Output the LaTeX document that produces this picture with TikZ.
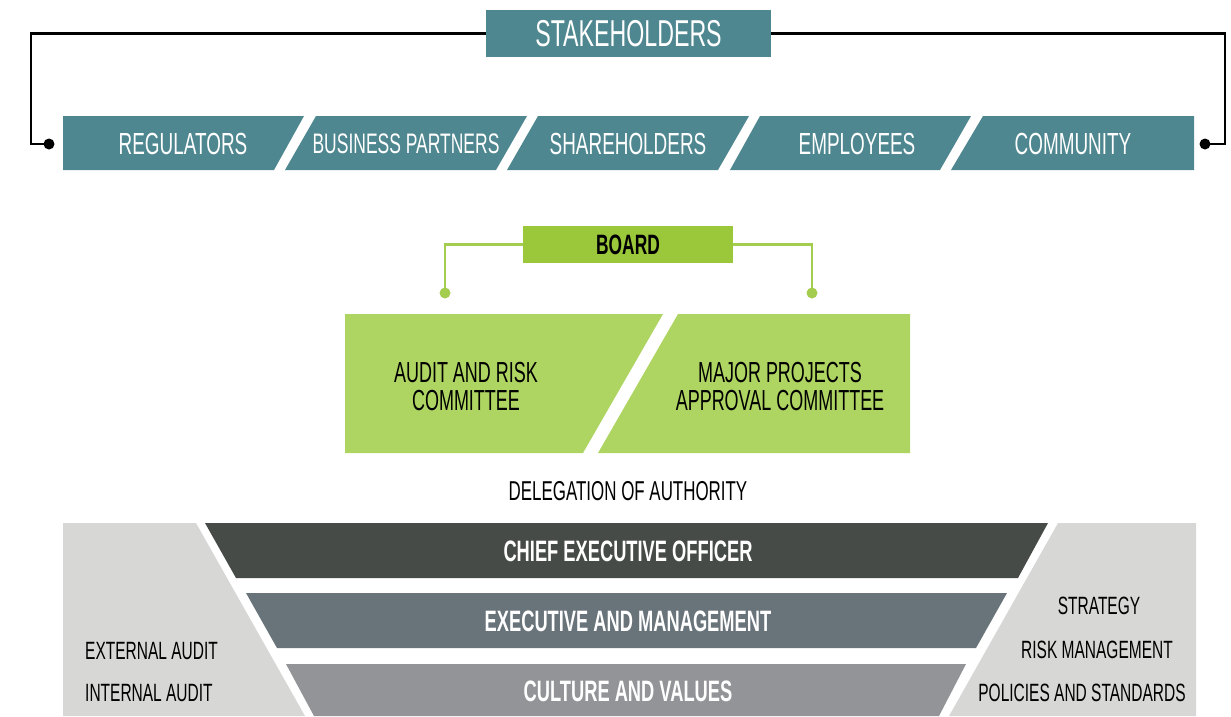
\documentclass[tikz,border=0pt]{standalone}
\usepackage{fontspec}
\setmainfont{Liberation Sans}[FakeStretch=0.62]
\usepackage{tikz}
\usetikzlibrary{positioning, calc}
\definecolor{staketeal}{RGB}{79,135,144}
\definecolor{boardgreen}{RGB}{155,199,59}
\definecolor{commgreen}{RGB}{174,213,98}
\definecolor{linegreen}{RGB}{164,204,79}
\definecolor{ceogray}{RGB}{70,75,71}
\definecolor{execgray}{RGB}{104,115,122}
\definecolor{culturegray}{RGB}{147,148,152}
\definecolor{panelgray}{RGB}{215,215,214}
\tikzset{stakebox/.style = {fill=staketeal, text=white, inner sep=0pt, font=\fontsize{37.4}{40}\selectfont},
         stakelabel/.style = {text=white, inner sep=0pt, font=\fontsize{30.5}{32}\selectfont},
         boardbox/.style = {fill=boardgreen, inner sep=0pt, font=\bfseries\fontsize{28}{30}\selectfont},
         commlabel/.style = {align=center, inner sep=0pt, font=\fontsize{29}{28}\selectfont},
         bandlabel/.style = {text=white, inner sep=0pt, font=\bfseries\fontsize{29.5}{31}\selectfont},
         sidelabel/.style = {inner sep=0pt, font=\fontsize{25}{27}\selectfont},
         blackline/.style = {draw=black, line width=2.5pt},
         greenline/.style = {draw=linegreen, line width=2.5pt}}

\begin{document}
\begin{tikzpicture}[x=1pt, y=-1pt]
        \useasboundingbox (0,0) rectangle (1231,716);

        % stakeholders
        \node [stakebox, minimum width=285pt, minimum height=47pt] (stake) at (628.5, 33.5) {STAKEHOLDERS};

        \fill [staketeal] (63,116) -- (304,116) -- (274,170) -- (63,170) -- cycle;
        \fill [staketeal] (316,116) -- (527,116) -- (496,170) -- (285,170) -- cycle;
        \fill [staketeal] (538,116) -- (749,116) -- (718,170) -- (507,170) -- cycle;
        \fill [staketeal] (760,116) -- (971,116) -- (940,170) -- (730,170) -- cycle;
        \fill [staketeal] (983,116) -- (1194,116) -- (1194,170) -- (951,170) -- cycle;

        \node [stakelabel] (reg) at (183, 144) {REGULATORS};
        \node [stakelabel, font=\fontsize{28.2}{30}\selectfont] (bus) at (406, 144) {BUSINESS PARTNERS};
        \node [stakelabel] (sha) at (628, 144) {SHAREHOLDERS};
        \node [stakelabel] (emp) at (857, 144) {EMPLOYEES};
        \node [stakelabel] (com) at (1073, 144) {COMMUNITY};

        \coordinate (lbend) at (31, 144);
        \coordinate (ldot)  at (49, 144);
        \coordinate (rbend) at (1225, 144);
        \coordinate (rdot)  at (1205, 144);
        \draw [blackline] (stake.west) -| (lbend) -- (ldot);
        \draw [blackline] (stake.east) -| (rbend) -- (rdot);
        \fill (ldot) circle (5.5pt);
        \fill (rdot) circle (5.5pt);

        % board and committees
        \node [boardbox, minimum width=210pt, minimum height=37pt] (board) at (628, 244.5) {BOARD};

        \fill [commgreen] (345,314) -- (663,314) -- (583,453) -- (345,453) -- cycle;
        \fill [commgreen] (678,314) -- (910,314) -- (910,453) -- (598,453) -- cycle;
        \node [commlabel] (audit) at (466, 387) {AUDIT AND RISK\\COMMITTEE};
        \node [commlabel] (major) at (780, 387) {MAJOR PROJECTS\\APPROVAL COMMITTEE};

        \coordinate (adot) at (445, 293);
        \coordinate (mdot) at (812, 293);
        \draw [greenline] (board.west) -| (adot);
        \draw [greenline] (board.east) -| (mdot);
        \fill [linegreen] (adot) circle (5.5pt);
        \fill [linegreen] (mdot) circle (5.5pt);

        \node [commlabel, font=\fontsize{27.3}{29}\selectfont] (doa) at (628, 491) {DELEGATION OF AUTHORITY};

        % management bands
        \fill [panelgray] (63,523) -- (196,523) -- (305,716) -- (63,716) -- cycle;
        \fill [panelgray] (1058,523) -- (1196,523) -- (1196,716) -- (949,716) -- cycle;
        \fill [ceogray] (205,523) -- (1048,523) -- (1018,578) -- (236,578) -- cycle;
        \fill [execgray] (246,593) -- (1007,593) -- (976,648) -- (277,648) -- cycle;
        \fill [culturegray] (286,664) -- (966,664) -- (939,716) -- (314,716) -- cycle;

        \node [bandlabel] (ceo) at (628, 551) {CHIEF EXECUTIVE OFFICER};
        \node [bandlabel] (exec) at (628, 621) {EXECUTIVE AND MANAGEMENT};
        \node [bandlabel] (cult) at (628, 691) {CULTURE AND VALUES};

        \node [sidelabel, anchor=west] (ext) at (85, 651) {EXTERNAL AUDIT};
        \node [sidelabel, anchor=west] (int) at (85, 693) {INTERNAL AUDIT};
        \node [sidelabel] (strat) at (1099, 606) {STRATEGY};
        \node [sidelabel] (risk) at (1097, 650) {RISK MANAGEMENT};
        \node [sidelabel] (pol) at (1082, 693) {POLICIES AND STANDARDS};
    \end{tikzpicture}
\end{document}
